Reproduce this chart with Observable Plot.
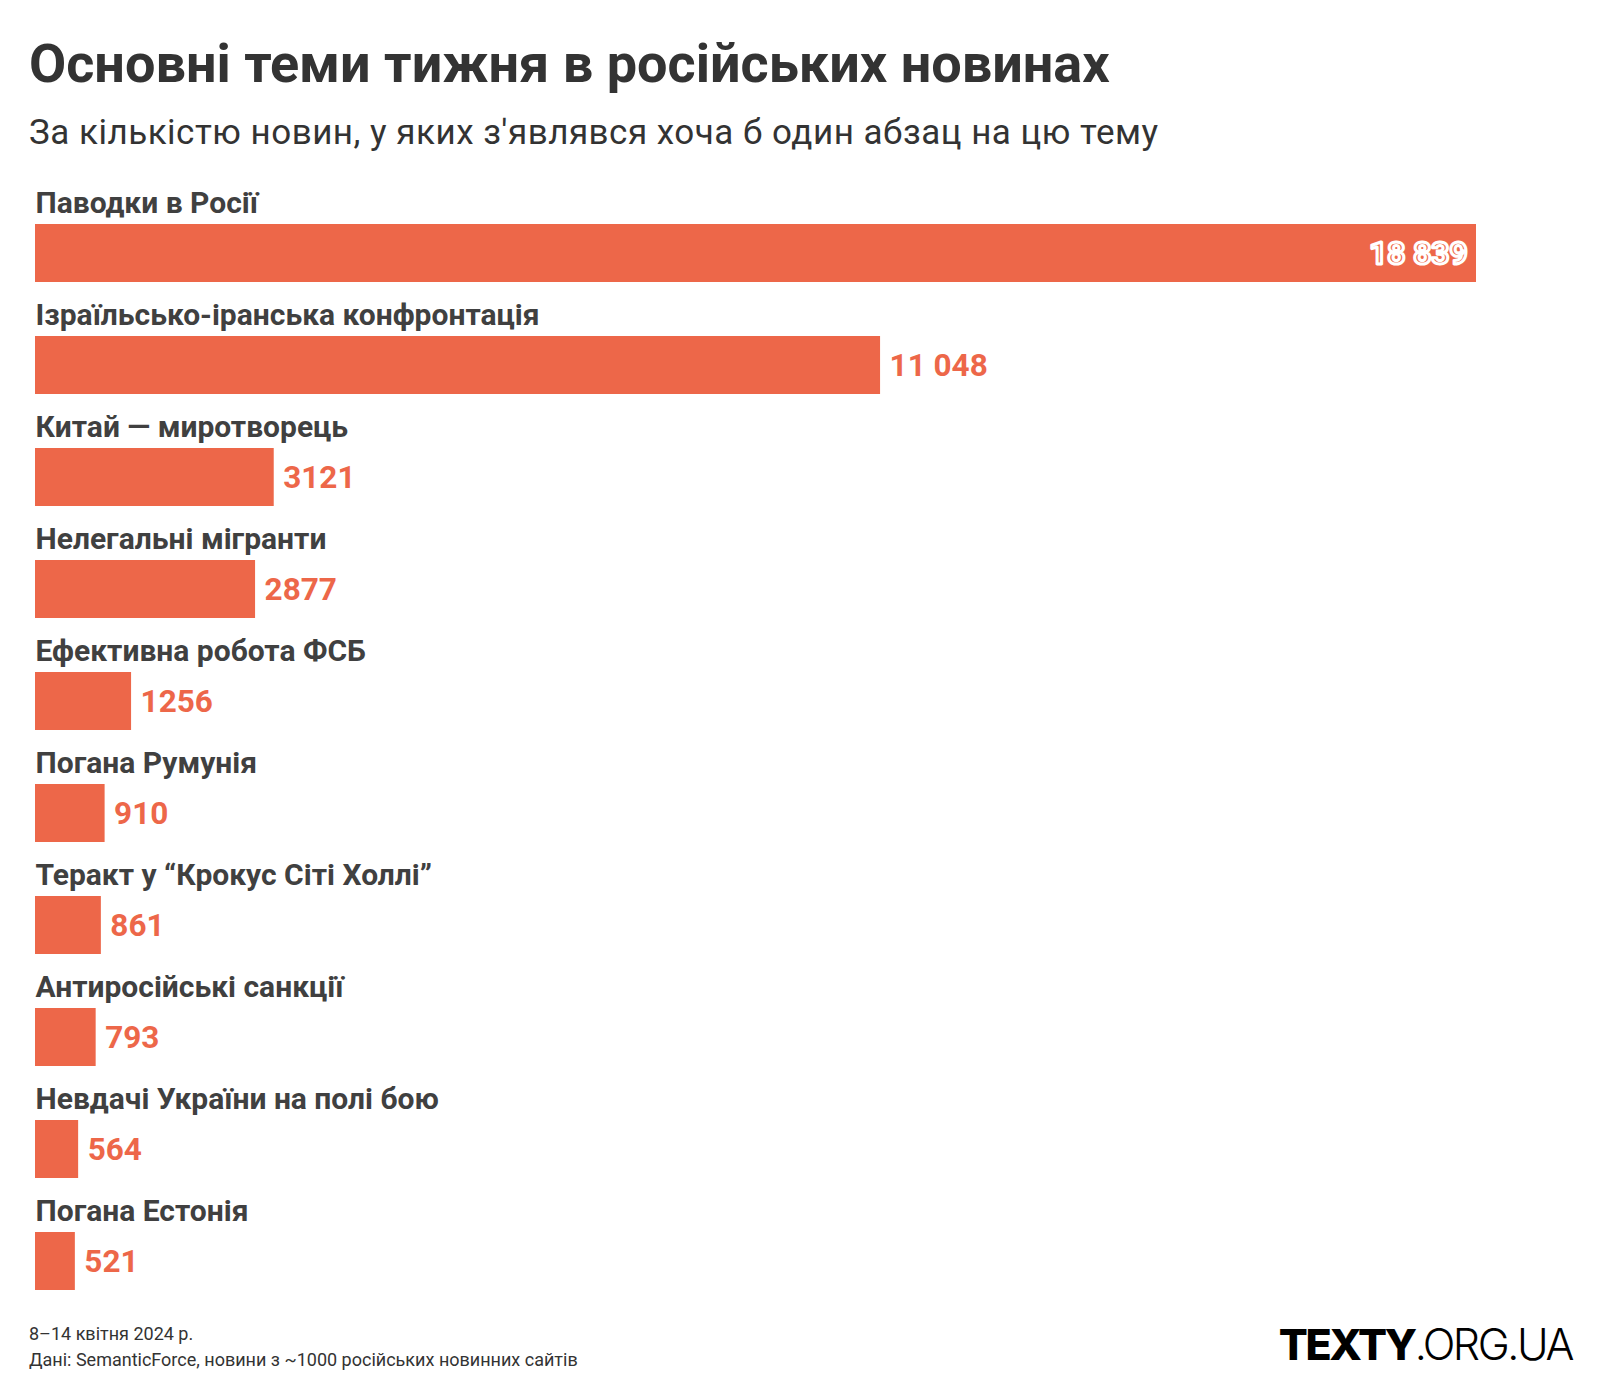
<!DOCTYPE html>
<html><head><meta charset="utf-8">
<script src="https://cdn.jsdelivr.net/npm/d3@7"></script>
<script src="https://cdn.jsdelivr.net/npm/@observablehq/plot@0.6"></script>
<style>
body{margin:0;background:#fff;}
#wrap{position:relative;width:1600px;height:1400px;font-family:Roboto,"Noto Sans",sans-serif;overflow:hidden;}
.abs{position:absolute;line-height:1;white-space:nowrap;margin:0;}
#title{left:29px;top:37px;font-size:54px;font-weight:700;color:#333;}
#subtitle{left:29px;top:115px;font-size:35px;font-weight:400;color:#333;letter-spacing:0.5px;}
#chart{position:absolute;left:0;top:160px;}
#note1{left:29px;top:1325px;font-size:18px;color:#333;}
#note2{left:29px;top:1351px;font-size:18px;color:#333;}
#logo{right:28px;top:1323px;font-family:Inter,Roboto,sans-serif;font-size:43px;color:#000;letter-spacing:-2.4px;}
#logo b{font-weight:800;}
#logo span{font-weight:300;}
</style></head>
<body>
<div id="wrap">
  <h1 class="abs" id="title">Основні теми тижня в російських новинах</h1>
  <div class="abs" id="subtitle">За кількістю новин, у яких з'являвся хоча б один абзац на цю тему</div>
  <div id="chart"></div>
  <div class="abs" id="note1">8–14 квітня 2024 р.</div>
  <div class="abs" id="note2">Дані: SemanticForce, новини з ~1000 російських новинних сайтів</div>
  <div class="abs" id="logo"><b>TEXTY</b><span>.ORG.UA</span></div>
</div>
<script>
const categories = [
  "Паводки в Росії",
  "Ізраїльсько-іранська конфронтація",
  "Китай — миротворець",
  "Нелегальні мігранти",
  "Ефективна робота ФСБ",
  "Погана Румунія",
  "Теракт у “Крокус Сіті Холлі”",
  "Антиросійські санкції",
  "Невдачі України на полі бою",
  "Погана Естонія"
];
const values = [18839, 11048, 3121, 2877, 1256, 910, 861, 793, 564, 521];

const BAR = "#ED6749";
const rows = categories.map((c, i) => ({topic: c, value: values[i]}));
const maxV = d3.max(values);
const fmt = v => v >= 10000 ? d3.format(",")(v).replace(/,/g, " ") : String(v);
const inside = rows.filter(d => d.value > 0.9 * maxV);
const outside = rows.filter(d => d.value <= 0.9 * maxV);

const chart = Plot.plot({
  width: 1600,
  height: 1140,
  marginTop: 9,
  marginBottom: 9,
  marginLeft: 35,
  marginRight: 124,
  x: {domain: [0, maxV], axis: null},
  y: {domain: categories, axis: null, padding: 0},
  style: {fontFamily: "Roboto, 'Noto Sans', sans-serif", background: "transparent", overflow: "visible"},
  marks: [
    Plot.barX(rows, {x: "value", y: "topic", fill: BAR, insetTop: 54}),
    Plot.text(rows, {y: "topic", text: "topic", frameAnchor: "left", textAnchor: "start", lineAnchor: "bottom", dy: -13.5, fontSize: 30, fontWeight: 700, fill: "#404040"}),
    Plot.text(outside, {x: "value", y: "topic", text: d => fmt(d.value), textAnchor: "start", lineAnchor: "middle", dx: 9, dy: 27, fontSize: 31.5, fontWeight: 700, fill: BAR}),
    Plot.text(inside, {x: "value", y: "topic", text: d => fmt(d.value), textAnchor: "end", lineAnchor: "middle", dx: -9, dy: 27, fontSize: 31.5, fontWeight: 700, fill: BAR, stroke: "#fff", strokeWidth: 3, paintOrder: "fill"})
  ]
});
document.getElementById("chart").append(chart);
</script>
</body></html>
